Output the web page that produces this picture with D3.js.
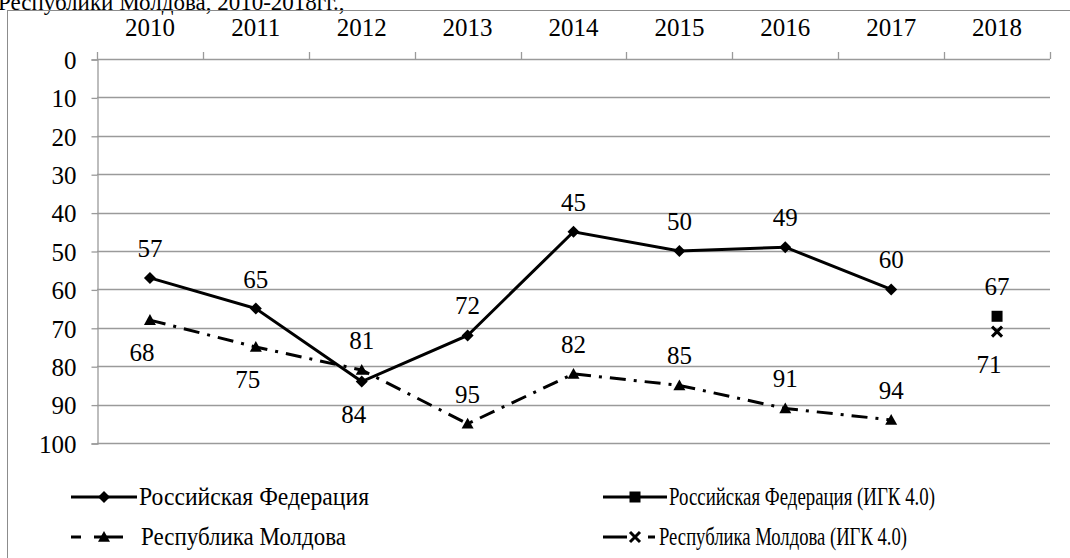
<!DOCTYPE html>
<html>
<head>
<meta charset="utf-8">
<script src="https://cdn.jsdelivr.net/npm/d3@7"></script>
</head>
<body style="margin:0; background:#fff">
<svg id="chart" width="1070" height="558"></svg>
<script>
// =========
// Data
// =========

var years = ['2010', '2011', '2012', '2013', '2014', '2015', '2016', '2017', '2018'];
var russia = [57, 65, 84, 72, 45, 50, 49, 60, null];
var moldova = [68, 75, 81, 95, 82, 85, 91, 94, null];
var russia_igk = [null, null, null, null, null, null, null, null, 67];
var moldova_igk = [null, null, null, null, null, null, null, null, 71];
var y_ticks = [0, 10, 20, 30, 40, 50, 60, 70, 80, 90, 100];

// where the value label sits relative to its point
var russia_label_side = ['up', 'up', 'down', 'up', 'up', 'up', 'up', 'up', null];
var moldova_label_side = ['down', 'down', 'up', 'up', 'up', 'up', 'up', 'up', null];
var russia_igk_label_side = [null, null, null, null, null, null, null, null, 'up'];
var moldova_igk_label_side = [null, null, null, null, null, null, null, null, 'down'];

var title = 'Республики Молдова, 2010-2018гг.,';

// =========
// Setup
// =========

var FONT = 'Liberation Serif';
var svg = d3.select('#chart').attr('font-family', FONT);
var font_size = 25;
var grid_color = '#9a9a9a';

var plot = {left: 97, right: 1050, top: 59, bottom: 443};

var x = d3.scaleBand().domain(years).range([plot.left, plot.right]);
var y = d3.scaleLinear().domain([0, 100]).range([plot.top, plot.bottom]);

function cx(i){ return x(years[i]) + x.bandwidth() / 2; }

// title (cut off at top of the picture)
svg.append('text')
    .attr('x', -2)
    .attr('y', 10)
    .attr('font-family', FONT)
    .attr('font-size', 23)
    .text(title);

// outer border
svg.append('rect')
    .attr('x', 7.5).attr('y', 10.5)
    .attr('width', 1200).attr('height', 700)
    .attr('fill', 'none')
    .attr('stroke', '#8c8c8c')
    .attr('stroke-width', 1);

// gridlines
svg.append('g').selectAll('line')
    .data(y_ticks)
    .enter().append('line')
    .attr('x1', plot.left).attr('x2', plot.right)
    .attr('y1', function(d){ return Math.round(y(d)) + 0.5; })
    .attr('y2', function(d){ return Math.round(y(d)) + 0.5; })
    .attr('stroke', grid_color)
    .attr('stroke-width', 1.3);

// y axis
var y_axis = svg.append('g')
    .attr('transform', 'translate(' + (plot.left + 0.5) + ',0.5)')
    .call(d3.axisLeft(y).tickValues(y_ticks).tickSize(6).tickPadding(15))
    .attr('font-family', FONT)
    .attr('font-size', font_size);
y_axis.selectAll('path, line').attr('stroke', grid_color).attr('stroke-width', 1.3);
y_axis.selectAll('text')
    .attr('fill', '#000')
    .attr('dy', '0.35em');

// x axis on top: ticks at band edges, labels centred
var edges = years.map(function(d){ return x(d); }).concat([plot.right]);
svg.append('g').selectAll('line')
    .data(edges)
    .enter().append('line')
    .attr('x1', function(d){ return Math.round(d) + 0.5; })
    .attr('x2', function(d){ return Math.round(d) + 0.5; })
    .attr('y1', plot.top - 7).attr('y2', plot.top)
    .attr('stroke', grid_color)
    .attr('stroke-width', 1.3);

svg.append('g').selectAll('text')
    .data(years)
    .enter().append('text')
    .attr('x', function(d){ return x(d) + x.bandwidth() / 2; })
    .attr('y', 36)
    .attr('text-anchor', 'middle')
    .attr('font-family', FONT)
    .attr('font-size', font_size)
    .text(function(d){ return d; });

// =========
// Markers
// =========

function diamond(s){ return 'M0,' + (-s) + 'L' + s + ',0L0,' + s + 'L' + (-s) + ',0Z'; }
function triangle(s){ return 'M0,' + (-s) + 'L' + s + ',' + (s * 0.8) + 'L' + (-s) + ',' + (s * 0.8) + 'Z'; }
function square(s){ return 'M' + (-s) + ',' + (-s) + 'h' + (2 * s) + 'v' + (2 * s) + 'h' + (-2 * s) + 'Z'; }

function draw_marker(g, kind, px, py){
    if(kind === 'cross'){
        g.append('path')
            .attr('d', 'M-5,-5L5,5M-5,5L5,-5')
            .attr('transform', 'translate(' + px + ',' + py + ')')
            .attr('stroke', '#000')
            .attr('stroke-width', 3)
            .attr('fill', 'none');
        return;
    }
    var d = kind === 'diamond' ? diamond(6) : kind === 'triangle' ? triangle(6) : square(5.5);
    g.append('path')
        .attr('d', d)
        .attr('transform', 'translate(' + px + ',' + py + ')')
        .attr('fill', '#000');
}

// =========
// Series
// =========

function draw_series(values, sides, kind, dash){
    var g = svg.append('g');
    var pts = [];
    values.forEach(function(v, i){ if(v !== null) pts.push([cx(i), y(v), v, sides[i]]); });

    if(pts.length > 1){
        g.append('path')
            .datum(pts)
            .attr('d', d3.line().x(function(d){ return d[0]; }).y(function(d){ return d[1]; }))
            .attr('fill', 'none')
            .attr('stroke', '#000')
            .attr('stroke-width', 3)
            .attr('stroke-dasharray', dash);
    }

    pts.forEach(function(p){ draw_marker(g, kind, p[0], p[1]); });

    g.selectAll('text.label')
        .data(pts)
        .enter().append('text')
        .attr('class', 'label')
        .attr('x', function(d){ return d[3] === 'up' ? d[0] : d[0] - 8; })
        .attr('y', function(d){ return d[3] === 'up' ? d[1] - 21 : d[1] + 41; })
        .attr('text-anchor', 'middle')
        .attr('font-family', FONT)
        .attr('font-size', font_size)
        .text(function(d){ return d[2]; });
}

draw_series(russia, russia_label_side, 'diamond', null);
draw_series(moldova, moldova_label_side, 'triangle', '16,8,3,8');
draw_series(russia_igk, russia_igk_label_side, 'square', null);
draw_series(moldova_igk, moldova_igk_label_side, 'cross', null);

// =========
// Legend
// =========

var legend_items = [
    {name: 'Российская Федерация', kind: 'diamond', x0: 71, x1: 137, dash: null, tx: 139, ty: 497, len: 230},
    {name: 'Российская Федерация  (ИГК 4.0)', kind: 'square', x0: 603, x1: 667, dash: null, tx: 669, ty: 497, len: 266},
    {name: 'Республика Молдова', kind: 'triangle', x0: 71, x1: 123, dash: '10,13,29', tx: 141, ty: 537, len: 205},
    {name: 'Республика Молдова (ИГК 4.0)', kind: 'cross', x0: 603, x1: 655, dash: '24,21,7', tx: 659, ty: 537, len: 248}
];

var legend = svg.append('g');
legend_items.forEach(function(it){
    legend.append('line')
        .attr('x1', it.x0).attr('x2', it.x1)
        .attr('y1', it.ty).attr('y2', it.ty)
        .attr('stroke', '#000')
        .attr('stroke-width', 3)
        .attr('stroke-dasharray', it.dash);
    var mx = it.kind === 'triangle' ? 104 : it.kind === 'diamond' ? 104 : 635;
    draw_marker(legend, it.kind, mx, it.ty);
    legend.append('text')
        .attr('x', it.tx)
        .attr('y', it.ty)
        .attr('dy', '0.33em')
        .attr('font-family', FONT)
        .attr('font-size', font_size)
        .attr('textLength', it.len)
        .attr('lengthAdjust', 'spacingAndGlyphs')
        .text(it.name);
});
</script>
</body>
</html>
